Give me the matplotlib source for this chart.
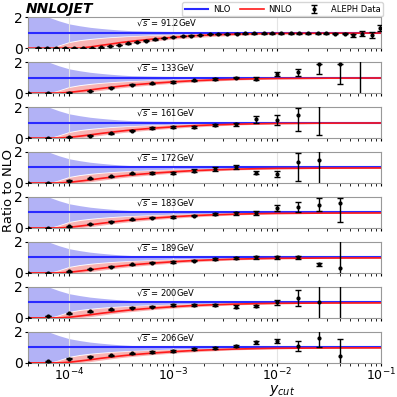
import numpy as np
import matplotlib
matplotlib.use("Agg")
import matplotlib.pyplot as plt

# theory grid, log10(y_cut)
theory_exp = [-4.4, -4.3, -4.2, -4.1, -4.0, -3.9, -3.8, -3.7, -3.6, -3.5,
              -3.4, -3.2, -3.0, -2.8, -2.6, -2.4, -2.2, -2.0, -1.5, -1.0]

# NLO scale band / NLO (same for all energies)
nlo_up = [2.6, 2.3, 2.0, 1.76, 1.56, 1.44, 1.34, 1.27, 1.21, 1.16,
          1.12, 1.09, 1.07, 1.06, 1.05, 1.05, 1.05, 1.05, 1.05, 1.05]
nlo_lo = [0.0, 0.0, 0.0, 0.2, 0.42, 0.54, 0.62, 0.68, 0.73, 0.77,
          0.80, 0.85, 0.89, 0.92, 0.94, 0.95, 0.955, 0.96, 0.96, 0.96]

# NNLO / NLO, LEP2 energies
nnlo_up = [0.0, 0.0, 0.0, 0.15, 0.36, 0.48, 0.56, 0.63, 0.68, 0.72,
           0.76, 0.82, 0.87, 0.91, 0.94, 0.96, 0.98, 0.99, 1.0, 1.0]
nnlo_lo = [0.0, 0.0, 0.0, 0.0, 0.0, 0.02, 0.08, 0.17, 0.26, 0.34,
           0.41, 0.53, 0.63, 0.71, 0.78, 0.84, 0.88, 0.91, 0.94, 0.95]
nnlo_c = [0.0, 0.0, 0.0, 0.0, 0.04, 0.12, 0.20, 0.29, 0.37, 0.45,
          0.52, 0.63, 0.72, 0.80, 0.85, 0.89, 0.92, 0.94, 0.96, 0.97]

# NNLO / NLO at the Z pole
nnlo_lo_z = [0.0, 0.0, 0.0, 0.0, 0.0, 0.0, 0.03, 0.08, 0.14, 0.22,
             0.30, 0.45, 0.58, 0.68, 0.76, 0.82, 0.87, 0.90, 0.94, 0.95]
nnlo_c_z = [0.0, 0.0, 0.0, 0.0, 0.0, 0.0, 0.07, 0.17, 0.26, 0.36,
            0.44, 0.58, 0.69, 0.80, 0.86, 0.90, 0.93, 0.95, 0.96, 0.97]

energies = ["91.2", "133", "161", "172", "183", "189", "200", "206"]

# ALEPH data / NLO
z_exp = [-4.30, -4.21, -4.13, -4.04, -3.95, -3.87, -3.78, -3.69, -3.61, -3.52,
         -3.43, -3.35, -3.26, -3.17, -3.09, -3.00, -2.91, -2.83, -2.74, -2.65,
         -2.57, -2.48, -2.39, -2.31, -2.22, -2.13, -2.05, -1.96, -1.87, -1.79,
         -1.70, -1.61, -1.53, -1.44, -1.35, -1.27, -1.18, -1.09, -1.01]
z_val = [0, 0, 0, 0, 0, 0, 0, 0.04, 0.13, 0.21,
         0.30, 0.40, 0.48, 0.56, 0.63, 0.70, 0.76, 0.81, 0.85, 0.89,
         0.91, 0.93, 0.94, 0.95, 0.95, 0.95, 0.95, 0.95, 0.95, 0.95,
         0.95, 0.95, 0.95, 0.93, 0.92, 0.84, 0.93, 0.84, 1.30]
z_err = [0.01] * 33 + [0.03, 0.04, 0.1, 0.15, 0.18, 0.2]

lep2_exp = [-4.4, -4.2, -4.0, -3.8, -3.6, -3.4, -3.2, -3.0, -2.8,
            -2.6, -2.4, -2.2, -2.0, -1.8, -1.6, -1.4, -1.2, -1.0]
nan = np.nan
lep2_val = {
    "133": [0, 0, 0.02, 0.13, 0.33, 0.53, 0.64, 0.71, 0.82,
            0.89, 1.0, 0.93, 1.22, 1.33, 1.85, 1.87, 3.0, nan],
    "161": [0, 0, 0.07, 0.16, 0.31, 0.47, 0.64, 0.71, 0.71,
            0.84, 0.89, 1.2, 1.16, 1.49, 2.1, nan, nan, nan],
    "172": [0, 0, 0.15, 0.30, 0.44, 0.63, 0.63, 0.63, 0.80,
            0.89, 1.0, 0.67, 0.58, 1.33, 1.49, nan, nan, nan],
    "183": [0, 0, 0.10, 0.25, 0.40, 0.55, 0.65, 0.72, 0.80,
            0.90, 0.95, 0.95, 1.3, 1.35, 1.5, 1.6, nan, nan],
    "189": [0, 0, 0.10, 0.25, 0.40, 0.55, 0.65, 0.72, 0.80,
            0.88, 0.95, 1.0, 1.0, 1.0, 0.55, 0.3, nan, nan],
    "200": [0, 0.13, 0.29, 0.42, 0.56, 0.67, 0.73, 0.84, 0.84,
            0.82, 0.73, 0.78, 1.0, 1.27, 1.0, 3.0, nan, nan],
    "206": [0, 0.10, 0.27, 0.40, 0.50, 0.62, 0.70, 0.76, 0.87,
            0.96, 1.11, 1.33, 1.40, 1.11, 1.62, 0.47, nan, nan],
}
lep2_err_lo = {
    "133": [0.01, 0.01, 0.02, 0.02, 0.03, 0.03, 0.04, 0.04, 0.05,
            0.05, 0.06, 0.08, 0.15, 0.2, 0.63, 1.31, 4.0, 0],
    "161": [0.01, 0.01, 0.02, 0.02, 0.03, 0.03, 0.04, 0.05, 0.08,
            0.08, 0.1, 0.2, 0.33, 1.05, 1.88, 0, 0, 0],
    "172": [0.01, 0.01, 0.02, 0.02, 0.03, 0.03, 0.07, 0.08, 0.08,
            0.12, 0.13, 0.12, 0.22, 1.2, 1.6, 0, 0, 0],
    "183": [0.01, 0.01, 0.02, 0.02, 0.03, 0.03, 0.04, 0.05, 0.06,
            0.08, 0.1, 0.12, 0.2, 0.3, 0.4, 1.2, 0, 0],
    "189": [0.01, 0.01, 0.02, 0.02, 0.03, 0.03, 0.04, 0.05, 0.06,
            0.06, 0.07, 0.08, 0.1, 0.1, 0.1, 0.4, 0, 0],
    "200": [0.01, 0.02, 0.02, 0.02, 0.03, 0.03, 0.04, 0.05, 0.06,
            0.07, 0.07, 0.08, 0.15, 0.5, 2.0, 4.0, 0, 0],
    "206": [0.01, 0.02, 0.02, 0.02, 0.03, 0.03, 0.04, 0.05, 0.06,
            0.07, 0.07, 0.1, 0.12, 0.33, 0.6, 1.0, 0, 0],
}
lep2_err_hi = {
    "133": [0.01, 0.01, 0.02, 0.02, 0.03, 0.03, 0.04, 0.04, 0.05,
            0.05, 0.06, 0.08, 0.15, 0.2, 0.02, 0.02, 4.0, 0],
    "161": [0.01, 0.01, 0.02, 0.02, 0.03, 0.03, 0.04, 0.05, 0.08,
            0.08, 0.1, 0.2, 0.33, 0.47, 0.5, 0, 0, 0],
    "172": [0.01, 0.01, 0.02, 0.02, 0.03, 0.03, 0.07, 0.08, 0.08,
            0.12, 0.13, 0.12, 0.22, 0.63, 0.6, 0, 0, 0],
    "183": [0.01, 0.01, 0.02, 0.02, 0.03, 0.03, 0.04, 0.05, 0.06,
            0.08, 0.1, 0.12, 0.2, 0.3, 0.4, 0.3, 0, 0],
    "189": [0.01, 0.01, 0.02, 0.02, 0.03, 0.03, 0.04, 0.05, 0.06,
            0.06, 0.07, 0.08, 0.1, 0.1, 0.1, 1.8, 0, 0],
    "200": [0.01, 0.02, 0.02, 0.02, 0.03, 0.03, 0.04, 0.05, 0.06,
            0.07, 0.07, 0.08, 0.15, 0.5, 2.0, 4.0, 0, 0],
    "206": [0.01, 0.02, 0.02, 0.02, 0.03, 0.03, 0.04, 0.05, 0.06,
            0.07, 0.07, 0.1, 0.12, 0.33, 0.6, 1.1, 0, 0],
}

tx = 10.0 ** np.array(theory_exp)

fig, axes = plt.subplots(8, 1, figsize=(3.97, 3.97), dpi=100, sharex=True)
fig.subplots_adjust(left=0.07, right=0.96, top=0.957, bottom=0.086, hspace=0.45)

for ax, E in zip(axes, energies):
    if E == "91.2":
        c_lo, c_mid = nnlo_lo_z, nnlo_c_z
        dx = 10.0 ** np.array(z_exp)
        dy = z_val
        derr = [z_err, z_err]
    else:
        c_lo, c_mid = nnlo_lo, nnlo_c
        dx = 10.0 ** np.array(lep2_exp)
        dy = lep2_val[E]
        derr = [lep2_err_lo[E], lep2_err_hi[E]]

    ax.fill_between(tx, nlo_lo, nlo_up, color="#b2b2f6", lw=0, zorder=1)
    ax.fill_between(tx, c_lo, nnlo_up, color="#f8b4b4", lw=0, zorder=2)
    l1, = ax.plot([4e-5, 0.1], [1, 1], color="#2a2aff", lw=1.5, zorder=3, label="NLO")
    l2, = ax.plot(tx, c_mid, color="#ff1a1a", lw=1.2, zorder=4, label="NNLO")
    eb = ax.errorbar(dx, dy, yerr=derr, fmt="o", ms=2.0, color="black",
                     ecolor="black", elinewidth=1, capsize=2, zorder=5,
                     label="ALEPH Data")

    ax.set_xscale("log")
    ax.set_xlim(4e-5, 0.1)
    ax.set_ylim(0, 2)
    ax.set_yticks([0, 2])
    ax.tick_params(axis="y", labelsize=10, length=2.5, pad=0.8)
    ax.tick_params(axis="x", which="both", labelsize=9, length=2.5, pad=0.5)
    ax.grid(axis="x", which="major", color="#e4e4e4", lw=0.8, zorder=0)
    for s in ax.spines.values():
        s.set_color("#999999")
    ax.text(0.305, 0.8, r"$\sqrt{s}$ = " + E + "GeV", transform=ax.transAxes,
            fontsize=6, va="center", ha="left", zorder=6)

    if E == "91.2":
        handles = [l1, l2, eb]

axes[-1].set_xticks([1e-4, 1e-3, 1e-2, 1e-1])
axes[-1].set_xlabel(r"$y_{cut}$", fontsize=10, labelpad=0)
axes[-1].xaxis.set_label_coords(0.72, -0.65)

fig.text(0.021, 0.52, "Ratio to NLO", rotation=90, fontsize=9.5, ha="center", va="center")
fig.text(0.065, 0.978, "NNLOJET", fontsize=10, fontweight="bold", fontstyle="italic",
         ha="left", va="center")
fig.legend(handles=handles, labels=["NLO", "NNLO", "ALEPH Data"], ncol=3,
           loc="upper right", bbox_to_anchor=(0.975, 1.005), fontsize=6,
           handlelength=2.8, handletextpad=0.6, columnspacing=1.2,
           borderpad=0.3, frameon=True)

fig.savefig("out.png", dpi=100)
